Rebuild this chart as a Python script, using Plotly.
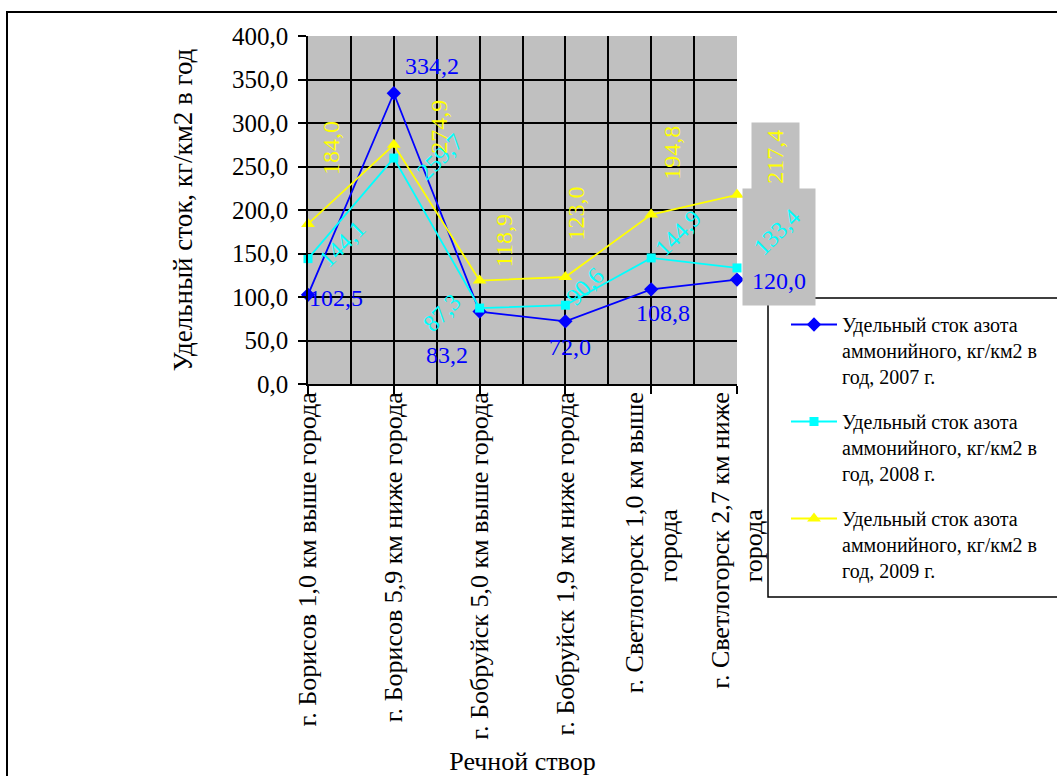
import plotly.graph_objects as go

categories = [
    "г. Борисов 1,0 км выше города",
    "г. Борисов 5,9 км ниже города",
    "г. Бобруйск 5,0 км выше города",
    "г. Бобруйск 1,9 км ниже города",
    "г. Светлогорск 1,0 км выше<br>города",
    "г. Светлогорск 2,7 км ниже<br>города",
]
series_names = [
    "Удельный сток азота<br>аммонийного, кг/км2 в<br>год, 2007 г.",
    "Удельный сток азота<br>аммонийного, кг/км2 в<br>год, 2008 г.",
    "Удельный сток азота<br>аммонийного, кг/км2 в<br>год, 2009 г.",
]
values_2007 = [102.5, 334.2, 83.2, 72.0, 108.8, 120.0]
values_2008 = [144.1, 259.7, 87.3, 90.6, 144.9, 133.4]
values_2009 = [184.0, 274.9, 118.9, 123.0, 194.8, 217.4]
y_ticks = [0, 50, 100, 150, 200, 250, 300, 350, 400]
x_title = "Речной створ"
y_title = "Удельный сток, кг/км2 в год"

FONT = "Liberation Serif, Times New Roman, serif"
colors = ["#0000FF", "#00FFFF", "#FFFF00"]
symbols = ["diamond", "square", "triangle-up"]
msizes = [11, 9, 12]
all_values = [values_2007, values_2008, values_2009]

# label styling: (xshift, yshift) in px, text angle
label_shifts = [
    [(28, -3), (38, 27), (-33, -43), (5, -26), (12, -24), (42, -1)],
    [(34, 15), (46, 1), (-38, -5), (20, 19), (27, 25), (40, 36)],
    [(23, 76), (45, 18), (24, 40), (11, 64), (20, 62), (38, 38)],
]
label_angles = [0, -45, -90]

x_idx = list(range(len(categories)))


def center_second_line(label, pad=18):
    # second line of a wrapped tick label is centred along the first one
    parts = label.split("<br>")
    if len(parts) == 2:
        return parts[0] + "<br>" + parts[1] + "\u00a0" * pad
    return label


tick_text = [center_second_line(c) for c in categories]

fig = go.Figure()
for s in range(3):
    fig.add_trace(go.Scatter(
        x=x_idx, y=all_values[s], name=series_names[s], mode="lines+markers",
        line=dict(color=colors[s], width=1.8),
        marker=dict(symbol=symbols[s], size=msizes[s], color=colors[s]),
        cliponaxis=False, legendgroup=f"g{s}",
    ))

annotations = []
# grey label background boxes (outside plot area at last category)
annotations.append(dict(x=x_idx[-1], y=values_2009[-1], xref="x", yref="y",
                        text=" ", showarrow=False, width=47, height=66,
                        bgcolor="#C0C0C0", borderpad=0,
                        xshift=38.5, yshift=39))
annotations.append(dict(x=x_idx[-1], y=values_2008[-1], xref="x", yref="y",
                        text=" ", showarrow=False, width=72, height=116,
                        bgcolor="#C0C0C0", borderpad=0,
                        xshift=42, yshift=21))
for s in range(3):
    for i, v in enumerate(all_values[s]):
        dx, dy = label_shifts[s][i]
        annotations.append(dict(
            x=x_idx[i], y=v, xref="x", yref="y",
            text=f"{v:.1f}".replace(".", ","), showarrow=False,
            font=dict(family=FONT, size=24, color=colors[s]),
            textangle=label_angles[s], xshift=dx, yshift=dy,
            xanchor="center", yanchor="middle",
        ))


# paper coords helpers (plot area 308..737 x 36..384)
def px(xp):
    return (xp - 308) / 429.0


def py(yp):
    return (384 - yp) / 348.0


shapes = [
    dict(type="rect", xref="paper", yref="paper",
         x0=px(768), x1=px(1070), y0=py(597), y1=py(298),
         line=dict(color="black", width=1.5), fillcolor="rgba(0,0,0,0)"),
    dict(type="rect", xref="paper", yref="paper",
         x0=px(7), x1=px(1080), y0=py(800), y1=py(12),
         line=dict(color="black", width=2), fillcolor="rgba(0,0,0,0)"),
]

fig.update_layout(
    width=1057, height=776, autosize=False,
    margin=dict(l=308, r=320, t=36, b=392, pad=0, autoexpand=False),
    paper_bgcolor="white", plot_bgcolor="#C0C0C0",
    separators=", ",
    font=dict(family=FONT, size=24, color="black"),
    showlegend=True,
    legend=dict(x=px(786), y=py(305), xanchor="left", yanchor="top",
                font=dict(family=FONT, size=20, color="black"),
                bgcolor="rgba(0,0,0,0)", borderwidth=0,
                tracegroupgap=16, valign="top", itemwidth=46),
    xaxis=dict(range=[0, 5], tickmode="array", tickvals=x_idx, ticktext=tick_text,
               automargin=False,
               tickangle=-90, ticks="outside", ticklen=8, tickcolor="black", tickwidth=1.5,
               ticklabelstandoff=-12,
               showline=True, linecolor="black", linewidth=1.5,
               showgrid=True, gridcolor="black", gridwidth=1.5, zeroline=False,
               minor=dict(tickmode="linear", tick0=0, dtick=0.5, showgrid=True,
                          gridcolor="black", gridwidth=1.5, ticks=""),
               tickfont=dict(family=FONT, size=26),
               title=dict(text=x_title, font=dict(family=FONT, size=26), standoff=20)),
    yaxis=dict(range=[0, 400], tickmode="array", tickvals=y_ticks, tickformat=".1f",
               automargin=False,
               ticks="outside", ticklen=8, tickcolor="black", tickwidth=1.5,
               ticklabelstandoff=5,
               showline=True, linecolor="black", linewidth=1.5,
               showgrid=True, gridcolor="black", gridwidth=1.5, zeroline=False,
               tickfont=dict(family=FONT, size=25),
               title=dict(text=y_title, font=dict(family=FONT, size=27), standoff=32)),
    annotations=annotations,
    shapes=shapes,
)

fig.write_html("out.html")
